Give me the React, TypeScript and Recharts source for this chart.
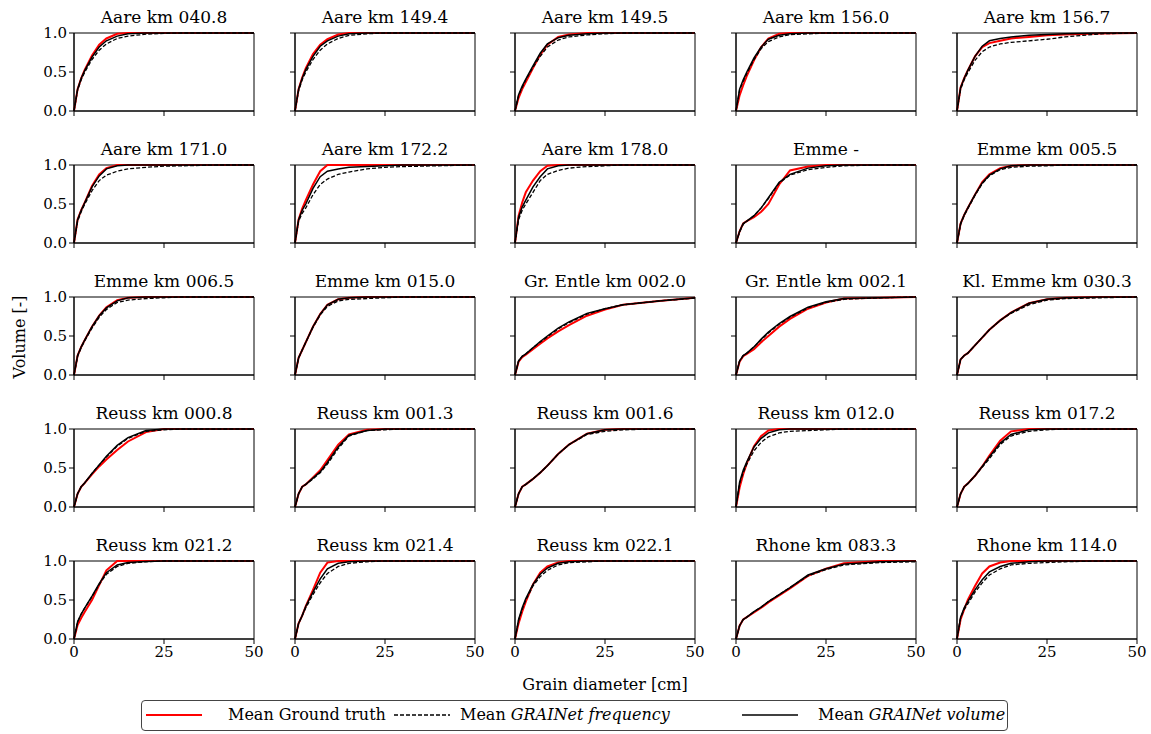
import React from "react";
import { LineChart, Line, XAxis, YAxis, ReferenceArea } from "recharts";

const X_GRID = [0, 1, 2, 3, 5, 7, 9, 12, 15, 20, 25, 30, 40, 50];

const TITLES = [
  "Aare km 040.8", "Aare km 149.4", "Aare km 149.5", "Aare km 156.0", "Aare km 156.7",
  "Aare km 171.0", "Aare km 172.2", "Aare km 178.0", "Emme -", "Emme km 005.5",
  "Emme km 006.5", "Emme km 015.0", "Gr. Entle km 002.0", "Gr. Entle km 002.1", "Kl. Emme km 030.3",
  "Reuss km 000.8", "Reuss km 001.3", "Reuss km 001.6", "Reuss km 012.0", "Reuss km 017.2",
  "Reuss km 021.2", "Reuss km 021.4", "Reuss km 022.1", "Rhone km 083.3", "Rhone km 114.0",
];

const X_TICKS = [0, 25, 50];
const Y_TICKS = [0, 0.5, 1];

// Mean Ground truth (red)
const GROUND_TRUTH = [
  [0, 0.28, 0.42, 0.53, 0.71, 0.85, 0.93, 0.99, 1, 1, 1, 1, 1, 1],
  [0, 0.28, 0.43, 0.55, 0.73, 0.85, 0.92, 0.98, 1, 1, 1, 1, 1, 1],
  [0, 0.17, 0.28, 0.37, 0.55, 0.72, 0.85, 0.95, 0.98, 1, 1, 1, 1, 1],
  [0, 0.2, 0.33, 0.45, 0.65, 0.82, 0.93, 0.99, 1, 1, 1, 1, 1, 1],
  [0, 0.3, 0.42, 0.52, 0.7, 0.82, 0.87, 0.9, 0.93, 0.95, 0.97, 0.98, 0.995, 1],
  [0, 0.3, 0.42, 0.52, 0.73, 0.88, 0.96, 1, 1, 1, 1, 1, 1, 1],
  [0, 0.3, 0.44, 0.55, 0.75, 0.92, 1, 1, 1, 1, 1, 1, 1, 1],
  [0, 0.35, 0.52, 0.65, 0.8, 0.92, 0.99, 1, 1, 1, 1, 1, 1, 1],
  [0, 0.15, 0.25, 0.28, 0.33, 0.4, 0.5, 0.75, 0.93, 0.98, 1, 1, 1, 1],
  [0, 0.25, 0.36, 0.45, 0.62, 0.78, 0.88, 0.96, 0.99, 1, 1, 1, 1, 1],
  [0, 0.25, 0.36, 0.45, 0.62, 0.76, 0.87, 0.96, 0.99, 1, 1, 1, 1, 1],
  [0, 0.22, 0.32, 0.42, 0.62, 0.78, 0.9, 0.97, 0.99, 1, 1, 1, 1, 1],
  [0, 0.17, 0.23, 0.26, 0.33, 0.4, 0.47, 0.56, 0.64, 0.76, 0.84, 0.9, 0.95, 0.99],
  [0, 0.17, 0.24, 0.27, 0.33, 0.42, 0.5, 0.62, 0.72, 0.85, 0.93, 0.98, 0.99, 1],
  [0, 0.2, 0.25, 0.28, 0.38, 0.48, 0.58, 0.7, 0.8, 0.92, 0.97, 0.99, 1, 1],
  [0, 0.17, 0.26, 0.31, 0.42, 0.52, 0.61, 0.73, 0.84, 0.96, 1, 1, 1, 1],
  [0, 0.17, 0.26, 0.29, 0.38, 0.47, 0.6, 0.8, 0.93, 0.99, 1, 1, 1, 1],
  [0, 0.17, 0.26, 0.29, 0.36, 0.44, 0.53, 0.68, 0.8, 0.94, 0.99, 1, 1, 1],
  [0, 0.25, 0.42, 0.56, 0.78, 0.91, 0.98, 1, 1, 1, 1, 1, 1, 1],
  [0, 0.17, 0.26, 0.3, 0.4, 0.52, 0.66, 0.85, 0.97, 1, 1, 1, 1, 1],
  [0, 0.18, 0.27, 0.35, 0.5, 0.69, 0.88, 1, 1, 1, 1, 1, 1, 1],
  [0, 0.2, 0.3, 0.42, 0.63, 0.85, 0.98, 1, 1, 1, 1, 1, 1, 1],
  [0, 0.2, 0.35, 0.48, 0.7, 0.85, 0.93, 0.98, 1, 1, 1, 1, 1, 1],
  [0, 0.17, 0.25, 0.28, 0.34, 0.4, 0.47, 0.56, 0.65, 0.81, 0.9, 0.97, 1, 1],
  [0, 0.25, 0.38, 0.5, 0.68, 0.84, 0.93, 0.98, 1, 1, 1, 1, 1, 1],
];

// Mean GRAINet frequency (black dashed)
const GRAINET_FREQUENCY = [
  [0, 0.27, 0.4, 0.5, 0.66, 0.78, 0.86, 0.93, 0.96, 0.985, 0.995, 1, 1, 1],
  [0, 0.26, 0.4, 0.5, 0.66, 0.78, 0.86, 0.93, 0.97, 0.99, 1, 1, 1, 1],
  [0, 0.2, 0.3, 0.4, 0.56, 0.7, 0.82, 0.91, 0.95, 0.975, 0.99, 1, 1, 1],
  [0, 0.27, 0.38, 0.48, 0.66, 0.8, 0.89, 0.95, 0.98, 0.99, 1, 1, 1, 1],
  [0, 0.28, 0.4, 0.49, 0.65, 0.76, 0.82, 0.86, 0.88, 0.9, 0.92, 0.95, 0.99, 1],
  [0, 0.28, 0.4, 0.5, 0.67, 0.8, 0.87, 0.92, 0.95, 0.97, 0.985, 0.99, 1, 1],
  [0, 0.28, 0.38, 0.45, 0.62, 0.75, 0.82, 0.88, 0.91, 0.95, 0.97, 0.98, 0.99, 1],
  [0, 0.3, 0.42, 0.5, 0.65, 0.8, 0.88, 0.93, 0.96, 0.98, 0.99, 1, 1, 1],
  [0, 0.14, 0.24, 0.28, 0.35, 0.45, 0.57, 0.77, 0.87, 0.94, 0.97, 0.99, 1, 1],
  [0, 0.24, 0.35, 0.44, 0.61, 0.76, 0.86, 0.94, 0.97, 0.985, 0.99, 1, 1, 1],
  [0, 0.24, 0.35, 0.44, 0.6, 0.74, 0.84, 0.93, 0.96, 0.98, 0.99, 1, 1, 1],
  [0, 0.22, 0.32, 0.42, 0.61, 0.77, 0.88, 0.95, 0.97, 0.98, 0.99, 1, 1, 1],
  [0, 0.18, 0.24, 0.27, 0.35, 0.42, 0.49, 0.59, 0.67, 0.78, 0.85, 0.9, 0.95, 0.985],
  [0, 0.18, 0.25, 0.28, 0.36, 0.45, 0.54, 0.65, 0.74, 0.86, 0.93, 0.97, 0.99, 1],
  [0, 0.2, 0.25, 0.28, 0.38, 0.48, 0.58, 0.7, 0.79, 0.9, 0.96, 0.98, 0.99, 1],
  [0, 0.17, 0.26, 0.31, 0.43, 0.54, 0.64, 0.78, 0.88, 0.97, 0.99, 1, 1, 1],
  [0, 0.17, 0.26, 0.29, 0.36, 0.44, 0.55, 0.75, 0.91, 0.98, 0.99, 1, 1, 1],
  [0, 0.17, 0.26, 0.29, 0.36, 0.44, 0.53, 0.68, 0.8, 0.93, 0.97, 0.99, 1, 1],
  [0, 0.3, 0.44, 0.55, 0.72, 0.83, 0.9, 0.95, 0.97, 0.98, 0.99, 1, 1, 1],
  [0, 0.17, 0.26, 0.3, 0.4, 0.51, 0.62, 0.8, 0.91, 0.97, 0.99, 1, 1, 1],
  [0, 0.22, 0.32, 0.4, 0.54, 0.7, 0.83, 0.93, 0.97, 0.99, 1, 1, 1, 1],
  [0, 0.2, 0.3, 0.4, 0.57, 0.72, 0.84, 0.93, 0.97, 0.99, 1, 1, 1, 1],
  [0, 0.24, 0.38, 0.5, 0.68, 0.8, 0.88, 0.95, 0.98, 0.99, 1, 1, 1, 1],
  [0, 0.17, 0.25, 0.28, 0.35, 0.41, 0.48, 0.57, 0.66, 0.81, 0.89, 0.95, 0.98, 0.99],
  [0, 0.27, 0.38, 0.45, 0.6, 0.72, 0.82, 0.9, 0.95, 0.97, 0.98, 0.99, 1, 1],
];

// Mean GRAINet volume (black solid)
const GRAINET_VOLUME = [
  [0, 0.28, 0.42, 0.52, 0.69, 0.82, 0.9, 0.96, 0.99, 1, 1, 1, 1, 1],
  [0, 0.28, 0.42, 0.53, 0.7, 0.83, 0.9, 0.96, 0.99, 1, 1, 1, 1, 1],
  [0, 0.21, 0.32, 0.41, 0.58, 0.74, 0.86, 0.94, 0.97, 0.99, 1, 1, 1, 1],
  [0, 0.28, 0.4, 0.5, 0.68, 0.82, 0.92, 0.97, 0.99, 1, 1, 1, 1, 1],
  [0, 0.3, 0.42, 0.52, 0.7, 0.83, 0.9, 0.93, 0.95, 0.97, 0.98, 0.99, 1, 1],
  [0, 0.3, 0.42, 0.52, 0.72, 0.86, 0.95, 0.99, 1, 1, 1, 1, 1, 1],
  [0, 0.3, 0.42, 0.5, 0.7, 0.85, 0.92, 0.95, 0.97, 0.98, 0.99, 1, 1, 1],
  [0, 0.33, 0.46, 0.55, 0.72, 0.85, 0.95, 0.99, 1, 1, 1, 1, 1, 1],
  [0, 0.15, 0.25, 0.28, 0.35, 0.45, 0.58, 0.78, 0.88, 0.96, 0.99, 1, 1, 1],
  [0, 0.25, 0.36, 0.45, 0.62, 0.77, 0.87, 0.95, 0.99, 1, 1, 1, 1, 1],
  [0, 0.25, 0.36, 0.45, 0.62, 0.76, 0.86, 0.95, 0.99, 1, 1, 1, 1, 1],
  [0, 0.22, 0.32, 0.42, 0.62, 0.78, 0.9, 0.97, 0.99, 1, 1, 1, 1, 1],
  [0, 0.18, 0.24, 0.27, 0.35, 0.43, 0.5, 0.6, 0.68, 0.79, 0.85, 0.9, 0.95, 0.99],
  [0, 0.18, 0.25, 0.28, 0.36, 0.46, 0.55, 0.66, 0.75, 0.87, 0.94, 0.98, 0.99, 1],
  [0, 0.2, 0.25, 0.28, 0.38, 0.48, 0.58, 0.7, 0.8, 0.92, 0.97, 0.99, 1, 1],
  [0, 0.17, 0.26, 0.31, 0.43, 0.54, 0.65, 0.79, 0.89, 0.98, 1, 1, 1, 1],
  [0, 0.17, 0.26, 0.29, 0.37, 0.45, 0.57, 0.77, 0.92, 0.98, 1, 1, 1, 1],
  [0, 0.17, 0.26, 0.29, 0.36, 0.44, 0.53, 0.68, 0.8, 0.94, 0.99, 1, 1, 1],
  [0, 0.32, 0.47, 0.58, 0.77, 0.88, 0.95, 0.99, 1, 1, 1, 1, 1, 1],
  [0, 0.17, 0.26, 0.3, 0.4, 0.52, 0.64, 0.82, 0.93, 0.99, 1, 1, 1, 1],
  [0, 0.22, 0.32, 0.4, 0.55, 0.71, 0.85, 0.95, 0.98, 0.995, 1, 1, 1, 1],
  [0, 0.2, 0.3, 0.42, 0.6, 0.77, 0.9, 0.97, 0.99, 1, 1, 1, 1, 1],
  [0, 0.25, 0.4, 0.52, 0.7, 0.83, 0.91, 0.97, 0.99, 1, 1, 1, 1, 1],
  [0, 0.17, 0.25, 0.28, 0.35, 0.41, 0.48, 0.57, 0.66, 0.82, 0.9, 0.96, 0.99, 1],
  [0, 0.28, 0.4, 0.48, 0.63, 0.76, 0.86, 0.93, 0.97, 0.99, 1, 1, 1, 1],
];

const FONT = "'DejaVu Serif', 'Liberation Serif', serif";
const COLS = 5;
const PLOT_W = 180;
const PLOT_H = 78;
const COL_LEFT = [74, 295, 515, 736, 957];
const ROW_TOP = [33, 165, 297, 429, 561];
const Y_AXIS_W = 40;
const TOP_M = 30;
const X_AXIS_H = 30;
const RIGHT_M = 16;

function Panel({ idx }: { idx: number }) {
  const col = idx % COLS;
  const row = Math.floor(idx / COLS);
  const showY = col === 0;
  const showX = row === 4;
  const data = X_GRID.map((x, i) => ({
    x,
    gt: GROUND_TRUTH[idx][i],
    freq: GRAINET_FREQUENCY[idx][i],
    vol: GRAINET_VOLUME[idx][i],
  }));
  const left = COL_LEFT[col];
  const top = ROW_TOP[row];
  const tickStyle = { fontFamily: FONT, fontSize: 15, fill: "#000" };
  return (
    <>
      <div
        style={{
          position: "absolute",
          left: left - 30,
          top: top - 26,
          width: PLOT_W + 60,
          textAlign: "center",
          fontFamily: FONT,
          fontSize: 17,
          lineHeight: "20px",
          color: "#000",
          whiteSpace: "nowrap",
        }}
      >
        {TITLES[idx]}
      </div>
      <div style={{ position: "absolute", left: left - Y_AXIS_W, top: top - TOP_M }}>
        <LineChart
          width={Y_AXIS_W + PLOT_W + RIGHT_M}
          height={TOP_M + PLOT_H + X_AXIS_H}
          data={data}
          margin={{ top: TOP_M, right: RIGHT_M, bottom: 0, left: 0 }}
        >
          <XAxis
            dataKey="x"
            type="number"
            domain={[0, 50]}
            ticks={X_TICKS}
            interval={0}
            height={X_AXIS_H}
            tickSize={5}
            tickLine={{ stroke: "#000" }}
            axisLine={{ stroke: "#000" }}
            tick={tickStyle}
            tickFormatter={(v: number) => (showX ? String(v) : "")}
          />
          <YAxis
            type="number"
            domain={[0, 1]}
            ticks={Y_TICKS}
            interval={0}
            width={Y_AXIS_W}
            tickSize={5}
            tickLine={{ stroke: "#000" }}
            axisLine={{ stroke: "#000" }}
            tick={tickStyle}
            tickFormatter={(v: number) => (showY ? v.toFixed(1) : "")}
          />
          <ReferenceArea x1={0} x2={50} y1={0} y2={1} fill="none" stroke="#000" strokeWidth={1} />
          <Line
            dataKey="gt"
            type="linear"
            stroke="#ff0000"
            strokeWidth={2}
            dot={false}
            activeDot={false}
            isAnimationActive={false}
          />
          <Line
            dataKey="freq"
            type="linear"
            stroke="#000"
            strokeWidth={1.3}
            strokeDasharray="4 2"
            dot={false}
            activeDot={false}
            isAnimationActive={false}
          />
          <Line
            dataKey="vol"
            type="linear"
            stroke="#000"
            strokeWidth={1.5}
            dot={false}
            activeDot={false}
            isAnimationActive={false}
          />
        </LineChart>
      </div>
    </>
  );
}

function LegendSample({ color, dash, width }: { color: string; dash?: string; width: number }) {
  return (
    <svg width={60} height={10} style={{ display: "block" }}>
      <line x1={2} y1={5} x2={58} y2={5} stroke={color} strokeWidth={width} strokeDasharray={dash} />
    </svg>
  );
}

export default function App() {
  return (
    <div
      style={{
        position: "absolute",
        left: 0,
        top: 0,
        width: 1151,
        height: 734,
        background: "#fff",
        fontFamily: FONT,
        color: "#000",
        overflow: "hidden",
      }}
    >
      {TITLES.map((_, i) => (
        <Panel key={i} idx={i} />
      ))}
      <div
        style={{
          position: "absolute",
          left: 19,
          top: 337,
          transform: "translate(-50%, -50%) rotate(-90deg)",
          fontSize: 16,
          whiteSpace: "nowrap",
        }}
      >
        Volume [-]
      </div>
      <div
        style={{
          position: "absolute",
          left: 0,
          width: 1210,
          top: 675,
          textAlign: "center",
          fontSize: 16,
          whiteSpace: "nowrap",
        }}
      >
        Grain diameter [cm]
      </div>
      <div
        style={{
          position: "absolute",
          left: 141,
          top: 700,
          width: 867,
          height: 31,
          border: "1px solid #444",
          borderRadius: 4,
          fontSize: 16,
          boxSizing: "border-box",
        }}
      >
        <div style={{ position: "absolute", left: 2, top: 9 }}>
          <LegendSample color="#ff0000" width={2} />
        </div>
        <div style={{ position: "absolute", left: 86, top: 4, whiteSpace: "nowrap" }}>Mean Ground truth</div>
        <div style={{ position: "absolute", left: 250, top: 9 }}>
          <LegendSample color="#000" width={1.3} dash="4 2" />
        </div>
        <div style={{ position: "absolute", left: 318, top: 4, whiteSpace: "nowrap" }}>
          Mean <i>GRAINet frequency</i>
        </div>
        <div style={{ position: "absolute", left: 598, top: 9 }}>
          <LegendSample color="#000" width={1.5} />
        </div>
        <div style={{ position: "absolute", left: 676, top: 4, whiteSpace: "nowrap" }}>
          Mean <i>GRAINet volume</i>
        </div>
      </div>
    </div>
  );
}
